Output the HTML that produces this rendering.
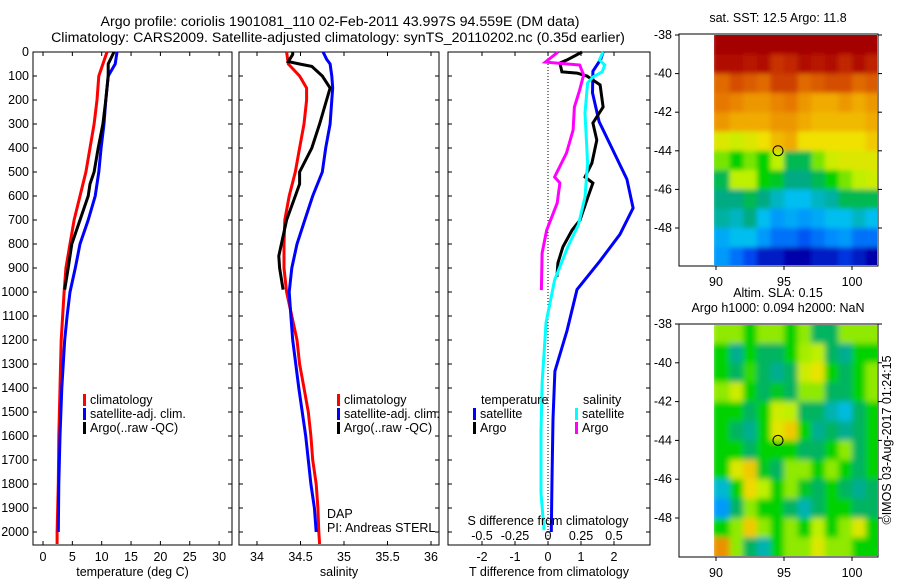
<!DOCTYPE html>
<html><head><meta charset="utf-8">
<style>
html,body{margin:0;padding:0;background:#fff;}
svg{display:block;font-family:"Liberation Sans",sans-serif;}
text{font-size:12.5px;fill:#000;}
</style></head>
<body>
<svg id="chart" width="900" height="580" viewBox="0 0 900 580" xmlns="http://www.w3.org/2000/svg">
<defs>
<filter id="blurS" x="-5%" y="-5%" width="110%" height="110%"><feGaussianBlur stdDeviation="2.5" edgeMode="duplicate"/></filter>
<filter id="blurL" x="-5%" y="-5%" width="110%" height="110%"><feGaussianBlur stdDeviation="3" edgeMode="duplicate"/></filter>
<clipPath id="clip1"><rect x="714" y="35" width="163" height="230"/></clipPath>
<clipPath id="clip2"><rect x="714" y="325" width="163" height="231"/></clipPath>
</defs>
<text x="340" y="26" text-anchor="middle" style="font-size:14.2px">Argo profile: coriolis 1901081_110 02-Feb-2011 43.997S 94.559E (DM data)</text>
<text x="338" y="42" text-anchor="middle" style="font-size:14.2px">Climatology: CARS2009. Satellite-adjusted climatology: synTS_20110202.nc (0.35d earlier)</text>
<g id="p1"></g>
<g id="p2"></g>
<g id="p3"></g>
<g id="m1"></g>
<g id="m2"></g>
<text transform="translate(891,440) rotate(-90)" text-anchor="middle">©IMOS 03-Aug-2017 01:24:15</text>
</svg>
<script>
// ---- data ----
const depthTicks=[0,100,200,300,400,500,600,700,800,900,1000,1100,1200,1300,1400,1500,1600,1700,1800,1900,2000];
const tTicks=[0,5,10,15,20,25,30];
const sTicks=[34,34.5,35,35.5,36];
const tdTicks=[-2,-1,0,1,2];
const sdTicks=[-0.5,-0.25,0,0.25,0.5];
const sdTickLabels=["-0.5","-0.25","0","0.25","0.5"];

const climT_depth=[0,100,200,300,400,500,600,700,800,900,1000,1200,1400,1600,1800,2000,2050];
const climT=[10.9,9.5,9.2,8.7,8.0,7.3,6.3,5.3,4.6,3.9,3.6,3.1,2.9,2.7,2.6,2.4,2.4];
const satT_depth=[0,50,100,200,300,400,500,600,700,800,900,1000,1100,1200,1400,1600,1800,2000];
const satT=[12.6,12.3,11.1,10.7,10.4,9.9,9.5,8.9,7.7,6.3,5.5,4.6,4.1,3.7,3.2,2.9,2.7,2.6];
const argoT_depth=[0,50,100,200,300,400,500,550,600,700,800,900,990];
const argoT=[12.1,11.1,11.1,10.7,10.2,9.4,8.7,8.0,7.7,6.3,4.9,4.3,3.7];

const climS_depth=[0,50,100,150,200,300,400,500,600,700,800,900,1000,1100,1200,1300,1400,1500,1600,1700,1800,1900,2000,2050];
const climS=[34.34,34.36,34.49,34.57,34.57,34.54,34.49,34.44,34.37,34.32,34.31,34.31,34.34,34.40,34.46,34.49,34.54,34.59,34.62,34.64,34.68,34.70,34.71,34.72];
const satS_depth=[0,30,50,100,150,200,300,400,500,600,700,800,900,1000,1100,1200,1400,1600,1800,1900,2000];
const satS=[34.76,34.80,34.84,34.86,34.87,34.86,34.84,34.79,34.75,34.64,34.55,34.46,34.40,34.37,34.39,34.41,34.48,34.56,34.62,34.66,34.68];
const argoS_depth=[0,10,40,50,60,100,150,200,300,400,500,550,600,700,800,850,900,990];
const argoS=[34.41,34.41,34.36,34.49,34.63,34.75,34.84,34.80,34.72,34.63,34.49,34.49,34.44,34.34,34.28,34.25,34.26,34.30];

const satTd_depth=[0,30,80,170,290,410,530,650,760,870,990,1160,1330,1530,1780,2000];
const satTd=[1.67,1.6,1.36,1.35,1.55,1.97,2.39,2.58,2.18,1.58,0.88,0.58,0.21,0.15,0.12,0.1];
const argoTd_depth=[0,33,46,83,88,100,137,229,296,367,463,521,546,604,700,742,812,879,937];
const argoTd=[1.03,0.58,0.36,0.42,0.88,1.18,1.58,1.67,1.36,1.48,1.33,1.12,1.36,1.21,0.97,0.73,0.45,0.30,0.27];
const satSd_depth=[0,33,54,83,104,129,254,463,604,720,812,950,1129,1171,1379,1583,1838,1992];
const satSd=[0.417,0.39,0.43,0.41,0.34,0.30,0.28,0.30,0.28,0.23,0.15,0.05,-0.015,-0.02,-0.045,-0.053,-0.053,-0.03];
const argoSd_depth=[0,42,54,96,158,229,325,421,521,546,629,742,838,992];
const argoSd=[0.076,-0.02,0.24,0.27,0.24,0.2,0.19,0.14,0.05,0.09,0.07,-0.01,-0.045,-0.05];

const mapLonTicks=[90,95,100];
const mapLatTicks=[-38,-40,-42,-44,-46,-48];
// colour index (0..1), rows from 38S southward, cols from 90E eastward (1 deg cells)
const sstGrid=[
[1,1,1,1,1,1,1,1,1,1,1,1],
[0.97,0.97,0.95,0.97,0.9,0.92,0.97,0.95,0.97,0.92,0.97,0.93],
[0.82,0.86,0.84,0.82,0.88,0.88,0.82,0.84,0.86,0.86,0.82,0.84],
[0.8,0.78,0.75,0.75,0.78,0.8,0.75,0.72,0.72,0.75,0.72,0.75],
[0.75,0.72,0.72,0.72,0.75,0.75,0.72,0.7,0.7,0.7,0.7,0.72],
[0.62,0.6,0.62,0.65,0.7,0.72,0.65,0.65,0.65,0.65,0.65,0.68],
[0.55,0.5,0.55,0.5,0.58,0.45,0.45,0.55,0.6,0.62,0.62,0.62],
[0.45,0.58,0.58,0.5,0.48,0.42,0.42,0.45,0.5,0.55,0.58,0.6],
[0.42,0.42,0.45,0.42,0.38,0.35,0.35,0.38,0.4,0.45,0.45,0.45],
[0.4,0.38,0.42,0.35,0.3,0.32,0.3,0.32,0.35,0.35,0.38,0.35],
[0.32,0.35,0.35,0.3,0.25,0.25,0.22,0.25,0.28,0.3,0.25,0.25],
[0.3,0.25,0.2,0.15,0.15,0.12,0.12,0.15,0.15,0.18,0.15,0.12]];
const slaGrid=[
[0.56,0.56,0.5,0.56,0.56,0.5,0.56,0.44,0.44,0.56,0.56,0.56],
[0.5,0.41,0.5,0.44,0.44,0.5,0.57,0.58,0.44,0.41,0.5,0.5],
[0.5,0.44,0.52,0.44,0.41,0.44,0.6,0.64,0.5,0.44,0.5,0.56],
[0.56,0.6,0.5,0.44,0.48,0.44,0.56,0.56,0.44,0.44,0.5,0.56],
[0.5,0.5,0.44,0.5,0.6,0.58,0.44,0.44,0.39,0.36,0.44,0.5],
[0.5,0.44,0.41,0.5,0.63,0.68,0.5,0.41,0.44,0.41,0.44,0.5],
[0.5,0.5,0.44,0.5,0.5,0.5,0.44,0.44,0.5,0.56,0.44,0.5],
[0.5,0.62,0.68,0.48,0.44,0.56,0.56,0.5,0.56,0.5,0.44,0.5],
[0.37,0.5,0.66,0.58,0.5,0.56,0.48,0.44,0.5,0.44,0.41,0.44],
[0.3,0.44,0.56,0.5,0.5,0.44,0.39,0.44,0.5,0.5,0.44,0.44],
[0.5,0.56,0.68,0.56,0.5,0.56,0.5,0.58,0.5,0.56,0.62,0.5],
[0.76,0.56,0.44,0.39,0.5,0.56,0.56,0.62,0.56,0.56,0.5,0.5]];
const argoLon=94.559, argoLat=-43.997;

// ---- helpers ----
const NS="http://www.w3.org/2000/svg";
function mk(parent,tag,attrs,txt){const e=document.createElementNS(NS,tag);for(const k in attrs)e.setAttribute(k,attrs[k]);if(txt!==undefined)e.textContent=txt;parent.appendChild(e);return e;}
const yD=d=>52+0.24*d;
const pTop=52,pBot=545;

function panel(g,x0,x1,xs,ticks,labels,title,name){
  const box=mk(g,'rect',{x:x0,y:pTop,width:x1-x0,height:pBot-pTop,fill:'none',stroke:'#000','stroke-width':1});
  
  
  ticks.forEach((t,i)=>{
    const x=xs(t);
    const tk=mk(g,'line',{x1:x,x2:x,y1:pTop,y2:pTop+4,stroke:'#000'});
    
    
    const tb=mk(g,'line',{x1:x,x2:x,y1:pBot,y2:pBot-4,stroke:'#000'});
    
    
    const lb=mk(g,'text',{x:x,y:pBot+16,'text-anchor':'middle'},labels?labels[i]:String(t));
    
    
  });
  depthTicks.forEach(d=>{
    const y=yD(d);
    const a=mk(g,'line',{x1:x0,x2:x0+4,y1:y,y2:y,stroke:'#000'});
    
    
    const b=mk(g,'line',{x1:x1,x2:x1-4,y1:y,y2:y,stroke:'#000'});
    
    
  });
  const tt=mk(g,'text',{x:(x0+x1)/2,y:576,'text-anchor':'middle'},title);
  
  
}
function line(g,xs,vals,depths,color,name){
  const pts=vals.map((v,i)=>xs(v).toFixed(1)+','+yD(depths[i]).toFixed(1)).join(' ');
  const p=mk(g,'polyline',{points:pts,fill:'none',stroke:color,'stroke-width':3,'stroke-linejoin':'miter'});
  
  
}
function legend(g,x,y,color,label,name){
  const r=mk(g,'rect',{x:x,y:y-10,width:3,height:12,fill:color});
  
  
  const t=mk(g,'text',{x:x+7,y:y},label);
  
  
}

// ---- panel 1 ----
const p1=document.getElementById('p1');
const xT=t=>43+5.87*t;
panel(p1,33,232,xT,tTicks,null,'temperature (deg C)','temperature');
depthTicks.forEach(d=>{
  const t=mk(p1,'text',{x:29,y:yD(d)+4,'text-anchor':'end'},String(d));
  
  
});
line(p1,xT,climT,climT_depth,'#ff0000','temperature-climatology-line');
line(p1,xT,satT,satT_depth,'#0000ff','temperature-satellite-line');
line(p1,xT,argoT,argoT_depth,'#000000','temperature-argo-line');
legend(p1,83,404,'#ff0000','climatology','temp-legend-climatology');
legend(p1,83,418,'#0000ff','satellite-adj. clim.','temp-legend-satellite');
legend(p1,83,432,'#000000','Argo(..raw -QC)','temp-legend-argo');

// ---- panel 2 ----
const p2=document.getElementById('p2');
const xS=s=>257+87*(s-34);
panel(p2,239,439,xS,sTicks,null,'salinity','salinity');
line(p2,xS,climS,climS_depth,'#ff0000','salinity-climatology-line');
line(p2,xS,satS,satS_depth,'#0000ff','salinity-satellite-line');
line(p2,xS,argoS,argoS_depth,'#000000','salinity-argo-line');
legend(p2,337,404,'#ff0000','climatology','sal-legend-climatology');
legend(p2,337,418,'#0000ff','satellite-adj. clim.','sal-legend-satellite');
legend(p2,337,432,'#000000','Argo(..raw -QC)','sal-legend-argo');
const dap=mk(p2,'text',{x:327,y:518},'DAP');


const pi=mk(p2,'text',{x:327,y:532},'PI: Andreas STERL');



// ---- panel 3 ----
const p3=document.getElementById('p3');
const xTd=v=>548+33*v;
const xSd=v=>548+132*v;
panel(p3,448,650,xTd,tdTicks,null,'T difference from climatology','tdiff');
sdTicks.forEach((v,i)=>{
  const t=mk(p3,'text',{x:xSd(v),y:540,'text-anchor':'middle'},sdTickLabels[i]);
  
  
});
const zl=mk(p3,'line',{x1:xTd(0),x2:xTd(0),y1:pTop,y2:pBot,stroke:'#000','stroke-dasharray':'1,2'});


line(p3,xTd,satTd,satTd_depth,'#0000ff','tdiff-satellite-line');
line(p3,xTd,argoTd,argoTd_depth,'#000000','tdiff-argo-line');
line(p3,xSd,satSd,satSd_depth,'#00ffff','sdiff-satellite-line');
line(p3,xSd,argoSd,argoSd_depth,'#ff00ff','sdiff-argo-line');
const sdt=mk(p3,'text',{x:548,y:525,'text-anchor':'middle'},'S difference from climatology');


const lt=mk(p3,'text',{x:481,y:404},'temperature');


const ls=mk(p3,'text',{x:583,y:404},'salinity');


legend(p3,473,418,'#0000ff','satellite','legend-tdiff-satellite');
legend(p3,473,432,'#000000','Argo','legend-tdiff-argo');
legend(p3,575,418,'#00ffff','satellite','legend-sdiff-satellite');
legend(p3,575,432,'#ff00ff','Argo','legend-sdiff-argo');

// ---- maps ----
const cmapStops=[[0,0,0,120],[0.12,0,0,170],[0.2,0,70,240],[0.28,0,140,255],[0.35,0,190,240],[0.42,0,170,130],[0.5,0,210,0],[0.58,190,240,0],[0.65,240,225,0],[0.72,240,170,0],[0.8,230,120,0],[0.9,200,50,0],[1,165,0,0]];
function cmap(v){
  for(let i=1;i<cmapStops.length;i++){
    const a=cmapStops[i-1],b=cmapStops[i];
    if(v<=b[0]){const f=(v-a[0])/(b[0]-a[0]);return 'rgb('+[1,2,3].map(k=>Math.round(a[k]+(b[k]-a[k])*f)).join(',')+')';}
  }
  return 'rgb(165,0,0)';
}
function map(g,grid,boxTop,boxBot,lat38,lat48,titles,name,filt,clip){
  const lonX=l=>716+13.6*(l-90);
  const latY=l=>lat38+(lat48-lat38)*(-38-l)/10;
  const cg=mk(g,'g',{'clip-path':'url(#'+clip+')'});
  
  
  const inner=mk(cg,'g',{filter:'url(#'+filt+')'});
  grid.forEach((row,i)=>row.forEach((v,j)=>{
    const x0=lonX(90+j)-(j===0?4:0), x1=lonX(91+j)+(j===11?4:0);
    const y0=latY(-38-i)-(i===0?4:0), y1=latY(-39-i)+(i===11?8:0);
    const c=mk(inner,'rect',{x:x0,y:y0,width:x1-x0+0.5,height:y1-y0+0.5,fill:cmap(v)});
    
    
  }));
  const fr=mk(g,'rect',{x:679,y:boxTop,width:199,height:boxBot-boxTop,fill:'none',stroke:'#000'});
  
  
  mapLonTicks.forEach(l=>{
    const x=lonX(l);
    const t=mk(g,'line',{x1:x,x2:x,y1:boxBot,y2:boxBot+4,stroke:'#000'});
    
    
    const lb=mk(g,'text',{x:x,y:boxBot+20,'text-anchor':'middle'},String(l));
    
    
  });
  mapLatTicks.forEach(l=>{
    const y=latY(l);
    const t=mk(g,'line',{x1:675,x2:679,y1:y,y2:y,stroke:'#000'});
    
    
    const t2=mk(g,'line',{x1:878,x2:882,y1:y,y2:y,stroke:'#000'});
    
    
    const lb=mk(g,'text',{x:672,y:y+4,'text-anchor':'end'},String(l));
    
    
  });
  const m=mk(g,'circle',{cx:lonX(argoLon),cy:latY(argoLat),r:5,fill:'none',stroke:'#000'});
  
  
  titles.forEach((tx,i)=>{
    const t=mk(g,'text',{x:778,y:boxTop-12-(titles.length-1-i)*15,'text-anchor':'middle'},tx);
    
    
  });
}
map(document.getElementById('m1'),sstGrid,34,266,35,228,['sat. SST: 12.5 Argo: 11.8'],'sst-map','blurS','clip1');
map(document.getElementById('m2'),slaGrid,324,557,324,518,['Altim. SLA: 0.15','Argo h1000: 0.094 h2000: NaN'],'sla-map','blurL','clip2');
</script>
</body></html>
